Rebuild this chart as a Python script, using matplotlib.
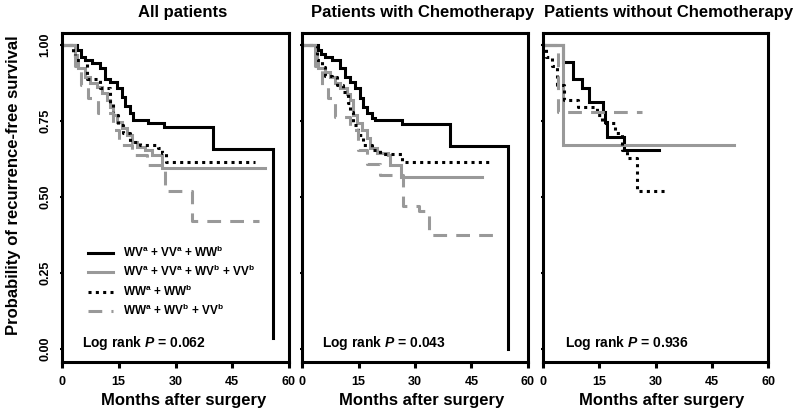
import matplotlib
matplotlib.use("Agg")
from matplotlib import pyplot as plt
from matplotlib.lines import Line2D

# === FONT ===
plt.rcParams['font.family'] = ['Liberation Sans', 'DejaVu Sans']
plt.rcParams['font.weight'] = 'bold'
plt.rcParams['mathtext.fontset'] = 'custom'
plt.rcParams['mathtext.rm'] = 'Liberation Sans:bold'
plt.rcParams['mathtext.bf'] = 'Liberation Sans:bold'
plt.rcParams['mathtext.it'] = 'Liberation Sans:italic:bold'
plt.rcParams['mathtext.default'] = 'rm'

# === DATI (mesi, sopravvivenza) ===
titles = ['All patients', 'Patients with Chemotherapy', 'Patients without Chemotherapy']
pvalues = ['0.062', '0.043', '0.936']
labels = ['WV$^a$ + VV$^a$ + WW$^b$',
          'WV$^a$ + VV$^a$ + WV$^b$ + VV$^b$',
          'WW$^a$ + WW$^b$',
          'WW$^a$ + WV$^b$ + VV$^b$']
xticks = [0, 15, 30, 45, 60]
yticks = [0.0, 0.25, 0.5, 0.75, 1.0]
ytick_labels = ['0.00', '0.25', '0.50', '0.75', '1.00']

# pannello 1: tutti i pazienti
all_black_t = [0, 4.0, 5.0, 6.0, 8.0, 10.0, 11.4, 12.7, 14.5, 15.9, 16.7, 18.0, 18.8, 22.8, 27.0, 40.0, 55.8]
all_black_s = [1.0, 0.985, 0.96, 0.95, 0.94, 0.925, 0.89, 0.878, 0.858, 0.83, 0.80, 0.776, 0.753, 0.743, 0.731, 0.657, 0.035]
all_gray_t = [0, 3.4, 4.0, 4.2, 6.1, 7.4, 9.2, 10.6, 11.9, 12.7, 13.5, 14.5, 15.9, 17.2, 18.5, 19.8, 22.0, 23.8, 26.5, 53.7]
all_gray_s = [1.0, 0.967, 0.94, 0.925, 0.895, 0.875, 0.862, 0.842, 0.82, 0.796, 0.77, 0.747, 0.727, 0.704, 0.681, 0.664, 0.655, 0.638, 0.595, 0.595]
all_dot_t = [0, 3.0, 3.4, 6.6, 10.0, 12.7, 13.5, 14.8, 16.1, 18.0, 20.6, 25.4, 26.5, 27.5, 51.0]
all_dot_s = [1.0, 0.97, 0.95, 0.89, 0.858, 0.81, 0.77, 0.737, 0.71, 0.68, 0.67, 0.66, 0.645, 0.615, 0.615]
all_dash_t = [0, 3.5, 5.0, 7.0, 9.5, 13.5, 15.0, 18.5, 22.5, 27.2, 34.4, 52.0]
all_dash_s = [1.0, 0.93, 0.87, 0.825, 0.776, 0.72, 0.67, 0.638, 0.605, 0.52, 0.42, 0.42]

# pannello 2: con chemioterapia
chemo_black_t = [0, 4.2, 5.0, 6.1, 8.0, 10.0, 11.4, 12.7, 14.0, 15.4, 16.2, 17.2, 18.6, 19.5, 26.5, 39.2, 54.6]
chemo_black_s = [1.0, 0.985, 0.97, 0.96, 0.95, 0.925, 0.895, 0.878, 0.858, 0.826, 0.796, 0.776, 0.76, 0.753, 0.74, 0.668, 0.0]
chemo_gray_t = [0, 3.4, 4.0, 4.2, 6.1, 7.4, 8.8, 10.0, 11.9, 12.7, 13.5, 14.6, 15.9, 17.2, 18.0, 19.9, 22.8, 23.3, 26.3, 47.7]
chemo_gray_s = [1.0, 0.97, 0.95, 0.925, 0.91, 0.895, 0.875, 0.858, 0.84, 0.82, 0.77, 0.743, 0.72, 0.694, 0.661, 0.645, 0.638, 0.605, 0.566, 0.566]
chemo_dot_t = [0, 4.0, 5.3, 6.0, 8.0, 9.3, 10.9, 12.2, 12.8, 13.5, 14.9, 16.2, 18.6, 20.7, 26.5, 50.7]
chemo_dot_s = [1.0, 0.95, 0.928, 0.90, 0.895, 0.87, 0.845, 0.81, 0.78, 0.737, 0.704, 0.67, 0.655, 0.641, 0.615, 0.615]
chemo_dash_t = [0, 3.5, 5.3, 7.0, 8.8, 12.7, 14.8, 17.2, 20.7, 26.8, 31.0, 33.7, 52.0]
chemo_dash_s = [1.0, 0.93, 0.87, 0.825, 0.763, 0.72, 0.655, 0.61, 0.572, 0.47, 0.455, 0.375, 0.375]

# pannello 3: senza chemioterapia
nochemo_black_t = [0, 5.2, 8.0, 10.3, 12.3, 16.0, 16.5, 17.0, 21.5, 31.0]
nochemo_black_s = [1.0, 0.944, 0.89, 0.858, 0.813, 0.78, 0.747, 0.697, 0.655, 0.655]
nochemo_gray_t = [0, 5.3, 51.0]
nochemo_gray_s = [1.0, 0.67, 0.67]
nochemo_dot_t = [0, 0.8, 2.5, 3.8, 5.5, 9.3, 14.3, 15.6, 19.3, 21.0, 22.3, 25.0, 33.3]
nochemo_dot_s = [1.0, 0.96, 0.93, 0.87, 0.82, 0.795, 0.77, 0.745, 0.71, 0.655, 0.63, 0.52, 0.52]
nochemo_dash_t = [0, 3.9, 26.5]
nochemo_dash_s = [1.0, 0.78, 0.78]

panels = [
    [(all_black_t, all_black_s), (all_gray_t, all_gray_s), (all_dot_t, all_dot_s), (all_dash_t, all_dash_s)],
    [(chemo_black_t, chemo_black_s), (chemo_gray_t, chemo_gray_s), (chemo_dot_t, chemo_dot_s), (chemo_dash_t, chemo_dash_s)],
    [(nochemo_black_t, nochemo_black_s), (nochemo_gray_t, nochemo_gray_s), (nochemo_dot_t, nochemo_dot_s), (nochemo_dash_t, nochemo_dash_s)],
]

# stili delle curve (nero, grigio, puntinato, tratteggiato)
GRAY = '#999999'
styles = [
    dict(color='black', lw=2.2, ls='-'),
    dict(color=GRAY, lw=2.2, ls='-'),
    dict(color='black', lw=2.2, ls=(0, (1, 1.4))),
    dict(color=GRAY, lw=2.2, ls=(0, (4.5, 3))),
]

# === GRAFICO ===
W, H = 800, 415
fig = plt.figure(figsize=(8, 4.15), dpi=100)
ax_left = [62, 302, 543]
ax_right = [289, 528, 768]
ax_top, ax_bottom = 33, 362
title_x = [183, 423, 669]
xlabel_x = [184, 422, 662]
text_x = [5.3, 5.3, 5.8]

for i in range(3):
    ax = fig.add_axes([ax_left[i] / W, 1 - ax_bottom / H,
                       (ax_right[i] - ax_left[i]) / W, (ax_bottom - ax_top) / H])
    for (t, s), st in zip(panels[i], styles):
        ax.plot(t, s, drawstyle='steps-post', solid_joinstyle='miter',
                dash_capstyle='butt', **st)

    ax.set_xlim(0, 60)
    ax.set_ylim(-0.043, 1.04)
    ax.set_xticks(xticks)
    ax.set_xticklabels([str(v) for v in xticks], fontsize=9, fontweight='bold')
    ax.set_yticks(yticks)
    if i == 0:
        ax.set_yticklabels(ytick_labels, fontsize=9, fontweight='bold',
                           rotation=90, va='center')
    else:
        ax.set_yticklabels([])
    ax.tick_params(axis='x', direction='out', length=4.3, width=2.2, pad=6)
    ax.tick_params(axis='y', direction='out', length=1.5, width=1.5, pad=6)
    for sp in ax.spines.values():
        sp.set_linewidth(2.2)

    ax.text(text_x[i], 0.02, 'Log rank $\\mathit{P}$ = ' + pvalues[i],
            fontsize=10, fontweight='bold', va='center', ha='left')

    fig.text(title_x[i] / W, 1 - 12 / H, titles[i], fontsize=12,
             fontweight='bold', ha='center', va='center')
    fig.text(xlabel_x[i] / W, 1 - 400 / H, 'Months after surgery', fontsize=12,
             fontweight='bold', ha='center', va='center')

    if i == 0:
        handles = [Line2D([], [], dash_capstyle='butt', **st) for st in styles]
        ax.legend(handles, labels, loc='center left', bbox_to_anchor=(0.115, 0.245),
                  frameon=False, fontsize=8.5, handlelength=2.1, handletextpad=0.85,
                  labelspacing=0.35, borderpad=0, borderaxespad=0)

fig.text(14 / W, 1 - 185 / H, 'Probability of recurrence-free survival',
         fontsize=12, fontweight='bold', rotation=90, ha='center', va='center')

plt.savefig('out.png', dpi=100)
plt.close()
